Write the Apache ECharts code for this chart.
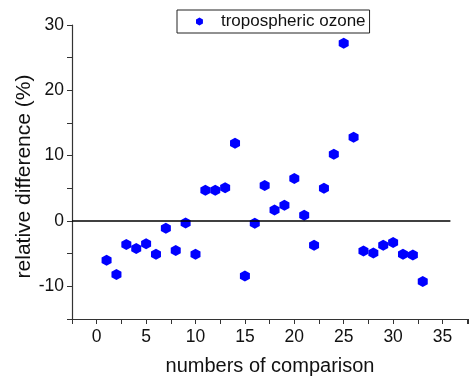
<!DOCTYPE html>
<html>
<head>
<meta charset="utf-8">
<script src="https://cdn.jsdelivr.net/npm/echarts@6/dist/echarts.min.js"></script>
<style>html,body{margin:0;padding:0;background:#fff}#c{width:469px;height:376px}</style>
</head>
<body>
<div id="c"></div>
<script>
const comparisonNumbers = [1,2,3,4,5,6,7,8,9,10,11,12,13,14,15,16,17,18,19,20,21,22,23,24,25,26,27,28,29,30,31,32,33];
const relativeDifference = [-6.0,-8.2,-3.6,-4.2,-3.5,-5.1,-1.1,-4.5,-0.3,-5.1,4.7,4.7,5.1,11.9,-8.4,-0.35,5.45,1.7,2.4,6.5,0.87,-3.7,5.0,10.2,27.2,12.8,-4.6,-4.9,-3.7,-3.3,-5.1,-5.2,-9.25];
const seriesName = 'tropospheric ozone';
const zeroLineX = [-2.5, 35.8];
const xTickLabels = [0,5,10,15,20,25,30,35];
const yTickLabels = [-10,0,10,20,30];

const hex = 'path://M0,-1 L0.866,-0.5 L0.866,0.5 L0,1 L-0.866,0.5 L-0.866,-0.5 Z';
const FONT = '"Liberation Sans", Arial, sans-serif';
const axisCol = '#333';

const chart = echarts.init(document.getElementById('c'), null, {renderer: 'canvas'});
chart.setOption({
  animation: false,
  backgroundColor: '#fff',
  grid: {left: 72, top: 25, right: 1, bottom: 57, containLabel: false, outerBoundsMode: 'none'},
  legend: {
    data: [{name: seriesName, icon: hex}],
    left: 177, top: 10,
    itemWidth: 7, itemHeight: 8, itemGap: 0,
    padding: [3, 4, 3, 19],
    borderColor: '#222', borderWidth: 1,
    textStyle: {fontFamily: FONT, fontSize: 17, color: '#111', padding: [0,0,0,13]},
    itemStyle: {color: '#0000ff'}
  },
  xAxis: {
    type: 'value', min: -2.5, max: 37.58, interval: 2.5,
    name: 'numbers of comparison', nameLocation: 'middle', nameGap: 37,
    nameTextStyle: {fontFamily: FONT, fontSize: 20, color: '#111'},
    axisLine: {onZero: false, lineStyle: {color: axisCol, width: 1.2}},
    axisTick: {show: true, length: 5, inside: false, lineStyle: {color: axisCol}},
    splitLine: {show: false},
    axisLabel: {
      fontFamily: FONT, fontSize: 17.5, color: '#111', margin: 9,
      formatter: v => xTickLabels.indexOf(v) >= 0 ? String(v) : ''
    }
  },
  yAxis: {
    type: 'value', min: -15, max: 30, interval: 5,
    name: 'relative difference (%)', nameLocation: 'middle', nameGap: 37,
    nameMoveOverlap: false,
    nameTextStyle: {fontFamily: FONT, fontSize: 21, color: '#111', padding: [0, 9, 0, 0]},
    axisLine: {onZero: false, lineStyle: {color: axisCol, width: 1.2}},
    axisTick: {show: true, length: 5, inside: false, lineStyle: {color: axisCol}},
    splitLine: {show: false},
    axisLabel: {
      fontFamily: FONT, fontSize: 17.5, color: '#111', margin: 8,
      formatter: v => yTickLabels.indexOf(v) >= 0 ? String(v) : ''
    }
  },
  series: [{
    name: seriesName,
    type: 'scatter',
    symbol: hex,
    symbolSize: [10, 11],
    itemStyle: {color: '#0000ff', opacity: 1},
    data: comparisonNumbers.map((x, i) => [x, relativeDifference[i]]),
    markLine: {
      silent: true, symbol: 'none', label: {show: false},
      lineStyle: {color: '#000', width: 1.5, type: 'solid'},
      data: [[{coord: [zeroLineX[0], 0]}, {coord: [zeroLineX[1], 0]}]]
    }
  }]
});
</script>
</body>
</html>
